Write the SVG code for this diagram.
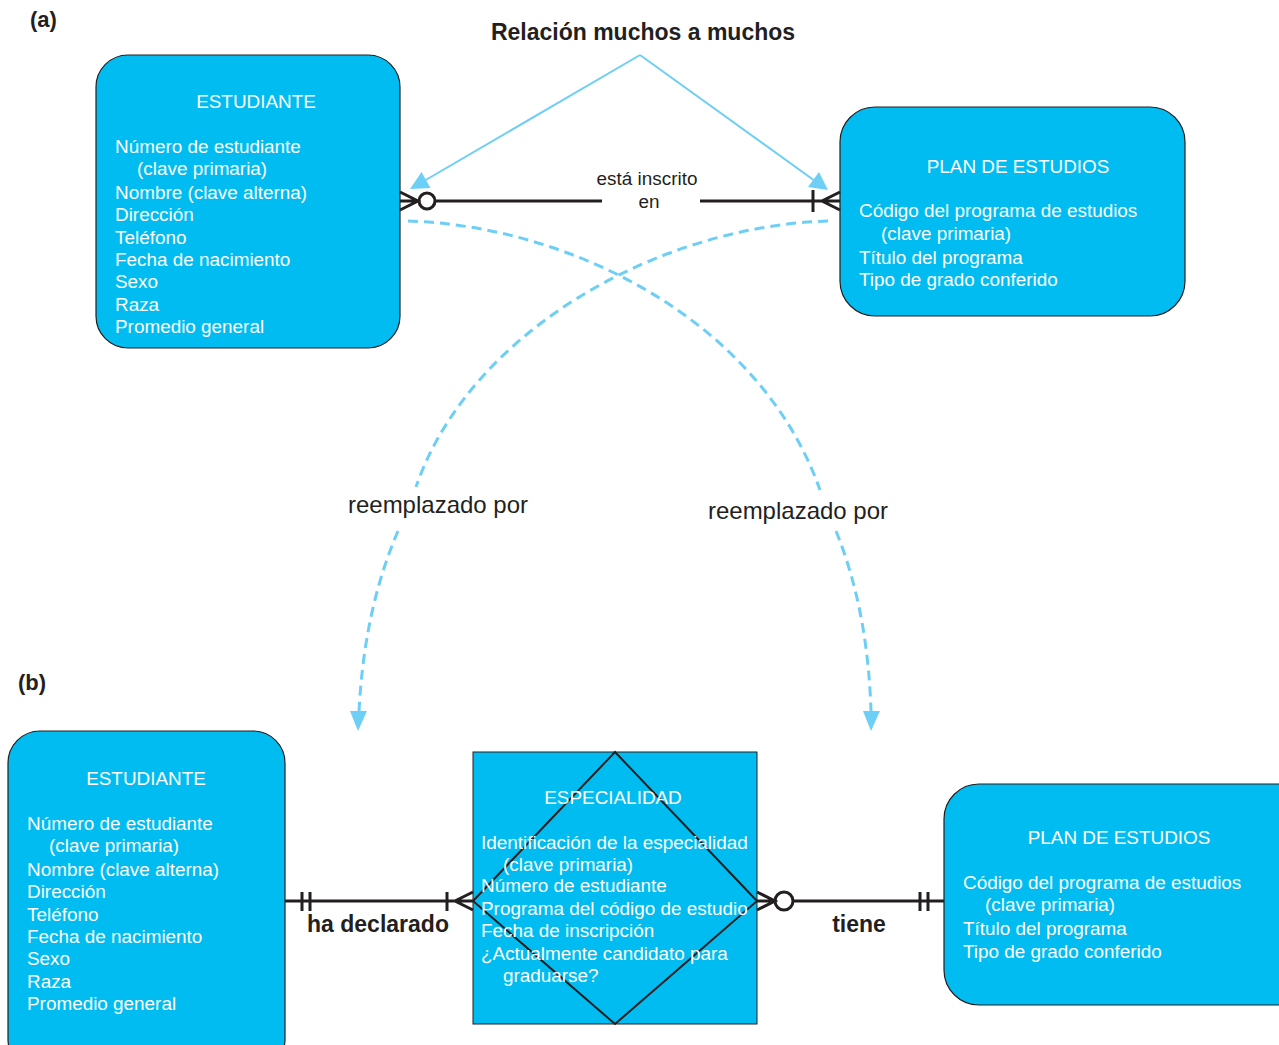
<svg xmlns="http://www.w3.org/2000/svg" width="1279" height="1045" viewBox="0 0 1279 1045">
<style>
.ent{fill:#00BCF1;stroke:#231F20;stroke-width:1.2}
.t{font-family:"Liberation Sans",Arial,sans-serif;font-size:18.9px;fill:#FFFFFF}
.tc{text-anchor:middle}
.lbl{font-family:"Liberation Sans",Arial,sans-serif;font-size:18.9px;fill:#231F20}
.blbl{font-family:"Liberation Sans",Arial,sans-serif;font-size:23px;font-weight:bold;fill:#231F20}
.big{font-family:"Liberation Sans",Arial,sans-serif;font-size:24px;fill:#231F20}
.rel{fill:none;stroke:#231F20;stroke-width:3}
.bl{fill:none;stroke:#6DCFF6;stroke-width:2}
.dash{fill:none;stroke:#6DCFF6;stroke-width:3;stroke-dasharray:10 6}
.ah{fill:#6DCFF6;stroke:none}
</style>

<text x="30" y="27" class="blbl" style="font-size:22px">(a)</text>
<text x="18" y="690" class="blbl" style="font-size:22px">(b)</text>
<text x="643" y="40" class="blbl" text-anchor="middle">Relación muchos a muchos</text>

<g id="estudiante-a">
<rect x="96" y="55" width="304" height="293" rx="32" class="ent"/>
<text x="256" y="108" class="t tc">ESTUDIANTE</text>
<text x="115" y="153" class="t">Número de estudiante</text>
<text x="137" y="175" class="t">(clave primaria)</text>
<text x="115" y="199" class="t">Nombre (clave alterna)</text>
<text x="115" y="221" class="t">Dirección</text>
<text x="115" y="244" class="t">Teléfono</text>
<text x="115" y="266" class="t">Fecha de nacimiento</text>
<text x="115" y="288" class="t">Sexo</text>
<text x="115" y="311" class="t">Raza</text>
<text x="115" y="333" class="t">Promedio general</text>
</g>

<g id="plan-a">
<rect x="840" y="107" width="345" height="209" rx="35" class="ent"/>
<text x="1018" y="173" class="t tc">PLAN DE ESTUDIOS</text>
<text x="859" y="217" class="t">Código del programa de estudios</text>
<text x="881" y="240" class="t">(clave primaria)</text>
<text x="859" y="264" class="t">Título del programa</text>
<text x="859" y="286" class="t">Tipo de grado conferido</text>
</g>

<g id="estudiante-b">
<rect x="8" y="731" width="277" height="340" rx="32" class="ent"/>
<text x="146" y="785" class="t tc">ESTUDIANTE</text>
<text x="27" y="830" class="t">Número de estudiante</text>
<text x="49" y="852" class="t">(clave primaria)</text>
<text x="27" y="876" class="t">Nombre (clave alterna)</text>
<text x="27" y="898" class="t">Dirección</text>
<text x="27" y="921" class="t">Teléfono</text>
<text x="27" y="943" class="t">Fecha de nacimiento</text>
<text x="27" y="965" class="t">Sexo</text>
<text x="27" y="988" class="t">Raza</text>
<text x="27" y="1010" class="t">Promedio general</text>
</g>

<g id="especialidad">
<rect x="473" y="752" width="284" height="272" fill="#00BCF1" stroke="#231F20" stroke-width="1"/>
<polygon points="615,752 757,901 615,1024 473,901" fill="none" stroke="#231F20" stroke-width="2"/>
<text x="613" y="804" class="t tc">ESPECIALIDAD</text>
<text x="481" y="849" class="t">Identificación de la especialidad</text>
<text x="503" y="871" class="t">(clave primaria)</text>
<text x="481" y="892" class="t">Número de estudiante</text>
<text x="481" y="915" class="t">Programa del código de estudio</text>
<text x="481" y="937" class="t">Fecha de inscripción</text>
<text x="481" y="960" class="t">¿Actualmente candidato para</text>
<text x="503" y="982" class="t">graduarse?</text>
</g>

<g id="plan-b">
<rect x="944" y="784" width="370" height="221" rx="35" class="ent"/>
<text x="1119" y="844" class="t tc">PLAN DE ESTUDIOS</text>
<text x="963" y="889" class="t">Código del programa de estudios</text>
<text x="985" y="911" class="t">(clave primaria)</text>
<text x="963" y="935" class="t">Título del programa</text>
<text x="963" y="958" class="t">Tipo de grado conferido</text>
</g>

<g id="connectors">
<!-- top relationship -->
<path class="rel" d="M400,201 H418 M400,192 L418,201 L400,210 M435,201 H602 M700,201 H840 M813,190 V212 M840,192 L822,201 L840,210"/>
<circle cx="427" cy="201" r="8" fill="none" stroke="#231F20" stroke-width="3"/>
<text x="647" y="185" class="lbl" text-anchor="middle">está inscrito</text>
<text x="649" y="208" class="lbl" text-anchor="middle">en</text>

<!-- callout arrows -->
<path class="bl" d="M640,55 L424,181 M640,55 L815,181"/>
<polygon class="ah" points="410,189 421.5,172 430.5,188"/>
<polygon class="ah" points="828,190 808,187 819,172"/>

<!-- dashed replacement curves -->
<path class="dash" d="M408,221 C570,226 760,320 820,490"/>
<path class="dash" d="M828,221 C660,226 470,330 416,487"/>
<text x="438" y="513" class="big" text-anchor="middle">reemplazado por</text>
<text x="798" y="519" class="big" text-anchor="middle">reemplazado por</text>
<path class="dash" d="M398,531 Q364,610 359,712"/>
<path class="dash" d="M836,531 Q868,610 871,712"/>
<polygon class="ah" points="350,711 367,711 358,731"/>
<polygon class="ah" points="863,711 880,711 871,731"/>

<!-- bottom relationships -->
<path class="rel" d="M285,901 H473 M302,892 V911 M310,892 V911 M447,892 V911 M473,892 L455,901 L473,910"/>
<text x="378" y="932" class="blbl" text-anchor="middle">ha declarado</text>
<path class="rel" d="M757,892 L775,901 L757,910 M757,901 H775 M793,901 H944 M920,892 V911 M928,892 V911"/>
<circle cx="784" cy="901" r="9" fill="none" stroke="#231F20" stroke-width="3"/>
<text x="859" y="932" class="blbl" text-anchor="middle">tiene</text>
</g>
</svg>
